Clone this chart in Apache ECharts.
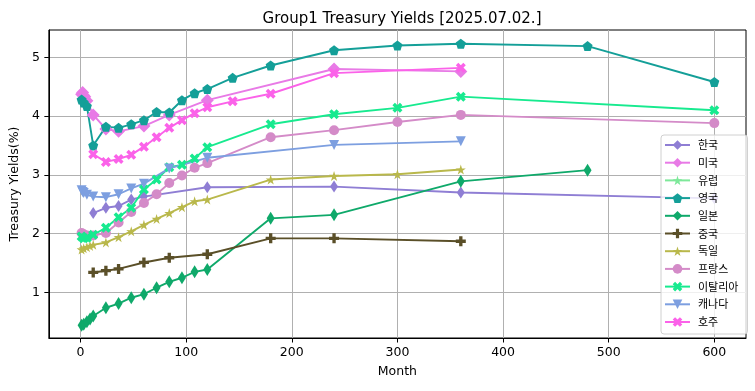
<!DOCTYPE html>
<html><head><meta charset="utf-8">
<script src="https://cdn.jsdelivr.net/npm/echarts@6/dist/echarts.min.js"></script>
<style>html,body{margin:0;padding:0;background:#fff}#c{width:755px;height:391px}</style>
</head><body><div id="c"></div>
<script>
// ---- data ----
const titleText = 'Group1 Treasury Yields [2025.07.02.]';
const xTicks = [0, 100, 200, 300, 400, 500, 600];
const yTicks = [1, 2, 3, 4, 5];

const krMonths = [12, 24, 36, 48, 60, 120, 240, 360, 600];
const krYields = [2.35, 2.44, 2.47, 2.58, 2.63, 2.79, 2.80, 2.70, 2.60];

const usMonths = [1, 2, 3, 4, 6, 12, 24, 36, 60, 84, 120, 240, 360];
const usYields = [4.37, 4.40, 4.35, 4.33, 4.26, 4.02, 3.78, 3.74, 3.83, 4.02, 4.27, 4.80, 4.76];

const euMonths = [];
const euYields = [];

const ukMonths = [1, 3, 6, 12, 24, 36, 48, 60, 72, 84, 96, 108, 120, 144, 180, 240, 300, 360, 480, 600];
const ukYields = [4.28, 4.23, 4.17, 3.50, 3.82, 3.80, 3.86, 3.93, 4.07, 4.06, 4.27, 4.39, 4.46, 4.65, 4.86, 5.12, 5.20, 5.23, 5.19, 4.58];

const jpMonths = [1, 3, 6, 9, 12, 24, 36, 48, 60, 72, 84, 96, 108, 120, 180, 240, 360, 480];
const jpYields = [0.44, 0.46, 0.50, 0.55, 0.60, 0.74, 0.81, 0.91, 0.97, 1.08, 1.18, 1.25, 1.35, 1.39, 2.26, 2.32, 2.89, 3.08];

const cnMonths = [12, 24, 36, 60, 84, 120, 180, 240, 360];
const cnYields = [1.34, 1.37, 1.40, 1.51, 1.59, 1.65, 1.92, 1.92, 1.87];

const deMonths = [1, 3, 6, 9, 12, 24, 36, 48, 60, 72, 84, 96, 108, 120, 180, 240, 300, 360];
const deYields = [1.73, 1.75, 1.77, 1.79, 1.81, 1.85, 1.94, 2.04, 2.15, 2.25, 2.35, 2.45, 2.55, 2.58, 2.92, 2.98, 3.01, 3.09];

const frMonths = [1, 3, 6, 12, 24, 36, 48, 60, 72, 84, 96, 108, 120, 180, 240, 300, 360, 600];
const frYields = [2.01, 1.99, 1.97, 1.97, 2.01, 2.19, 2.37, 2.52, 2.67, 2.86, 2.99, 3.12, 3.20, 3.64, 3.76, 3.90, 4.02, 3.88];

const itMonths = [1, 3, 6, 12, 24, 36, 48, 60, 72, 84, 96, 108, 120, 180, 240, 300, 360, 600];
const itYields = [1.95, 1.92, 1.93, 1.98, 2.10, 2.28, 2.44, 2.75, 2.92, 3.13, 3.17, 3.28, 3.47, 3.86, 4.03, 4.14, 4.33, 4.10];

const caMonths = [1, 2, 3, 6, 12, 24, 36, 48, 60, 84, 120, 240, 360];
const caYields = [2.74, 2.71, 2.69, 2.66, 2.63, 2.62, 2.67, 2.77, 2.85, 3.11, 3.29, 3.51, 3.57];

const auMonths = [12, 24, 36, 48, 60, 72, 84, 96, 108, 120, 144, 180, 240, 360];
const auYields = [3.35, 3.22, 3.27, 3.34, 3.48, 3.64, 3.80, 3.93, 4.05, 4.15, 4.25, 4.38, 4.73, 4.82];

// ---- styles ----
const STAR = 'path://M0,-10L2.23,-3.07L9.51,-3.09L3.61,1.17L5.88,8.09L0,3.8L-5.88,8.09L-3.61,1.17L-9.51,-3.09L-2.23,-3.07Z';
const PENT = 'path://M0,-10L9.51,-3.09L5.88,8.09L-5.88,8.09L-9.51,-3.09Z';
const PLUS = 'path://M-1,-3L1,-3L1,-1L3,-1L3,1L1,1L1,3L-1,3L-1,1L-3,1L-3,-1L-1,-1Z';
const XFILL = 'path://M2,-4L4,-2L2,0L4,2L2,4L0,2L-2,4L-4,2L-2,0L-4,-2L-2,-4L0,-2Z';
const TRIDOWN = 'path://M0,0L10,0L5,8.66Z';

const seriesDefs = [
  {name: '한국', m: krMonths, v: krYields, color: '#8f7ed4', symbol: 'diamond', size: [8, 12]},
  {name: '미국', m: usMonths, v: usYields, color: '#e87ae6', symbol: 'diamond', size: [13, 13]},
  {name: '유럽', m: euMonths, v: euYields, color: '#7ee89a', symbol: STAR, size: 10},
  {name: '영국', m: ukMonths, v: ukYields, color: '#149f98', symbol: PENT, size: 10},
  {name: '일본', m: jpMonths, v: jpYields, color: '#0fa96a', symbol: 'diamond', size: [8, 13]},
  {name: '중국', m: cnMonths, v: cnYields, color: '#5a4f28', symbol: PLUS, size: 10},
  {name: '독일', m: deMonths, v: deYields, color: '#b9b84b', symbol: STAR, size: 10},
  {name: '프랑스', m: frMonths, v: frYields, color: '#d48bc8', symbol: 'circle', size: 10},
  {name: '이탈리아', m: itMonths, v: itYields, color: '#17ea8f', symbol: XFILL, size: 10},
  {name: '캐나다', m: caMonths, v: caYields, color: '#7d9fe0', symbol: TRIDOWN, size: 10},
  {name: '호주', m: auMonths, v: auYields, color: '#fb62e9', symbol: XFILL, size: 10}
];

const FONT = 'DejaVu Sans';
const chart = echarts.init(document.getElementById('c'), null, {renderer: 'canvas'});
chart.setOption({
  animation: false,
  backgroundColor: '#fff',
  title: {
    text: titleText, left: 397, top: 7, textAlign: 'center',
    textStyle: {fontFamily: FONT, fontSize: 15, fontWeight: 'normal', color: '#000'}
  },
  grid: {left: 48, right: 9, top: 30, bottom: 53, show: true, borderColor: '#000', borderWidth: 1, backgroundColor: 'transparent'},
  legend: {
    orient: 'vertical', left: 661, top: 135,
    padding: [4, 9, 6, 3],
    itemWidth: 25, itemHeight: 12, itemGap: 5.7,
    backgroundColor: 'rgba(255,255,255,0.8)',
    borderColor: '#d0d0d0', borderWidth: 1, borderRadius: 3,
    textStyle: {fontFamily: 'Noto Sans CJK KR', fontSize: 11, color: '#000', lineHeight: 12, padding: [0, 0, 0, 3]},
    data: seriesDefs.map(s => s.name)
  },
  xAxis: {
    type: 'value', min: -30, max: 630,
    name: 'Month', nameLocation: 'middle', nameGap: 27,
    nameTextStyle: {fontFamily: FONT, fontSize: 12.5, color: '#000'},
    axisLine: {show: true, onZero: false, lineStyle: {color: '#000', width: 1}},
    axisTick: {show: true, length: 4.5, lineStyle: {color: '#000'}, customValues: xTicks},
    axisLabel: {fontFamily: FONT, fontSize: 12.5, color: '#000', margin: 8, customValues: xTicks},
    splitLine: {show: true, lineStyle: {color: '#b0b0b0', width: 1}}
  },
  yAxis: {
    type: 'value', min: 0.225, max: 5.464,
    name: 'Treasury Yields(%)', nameLocation: 'middle', nameGap: 23, nameRotate: 90,
    nameTextStyle: {fontFamily: FONT, fontSize: 12.5, color: '#000'},
    axisLine: {show: true, onZero: false, lineStyle: {color: '#000', width: 1}},
    axisTick: {show: true, length: 4.5, lineStyle: {color: '#000'}, customValues: yTicks},
    axisLabel: {fontFamily: FONT, fontSize: 12.5, color: '#000', margin: 9, customValues: yTicks},
    splitLine: {show: true, lineStyle: {color: '#b0b0b0', width: 1}}
  },
  series: seriesDefs.map(s => ({
    name: s.name, type: 'line',
    data: s.m.map((m, i) => [m, s.v[i]]),
    symbol: s.symbol, symbolSize: s.size, symbolKeepAspect: false,
    showAllSymbol: true,
    lineStyle: {color: s.color, width: 1.9},
    itemStyle: {color: s.color, borderWidth: 0},
    emphasis: {disabled: true}
  }))
});
</script></body></html>
